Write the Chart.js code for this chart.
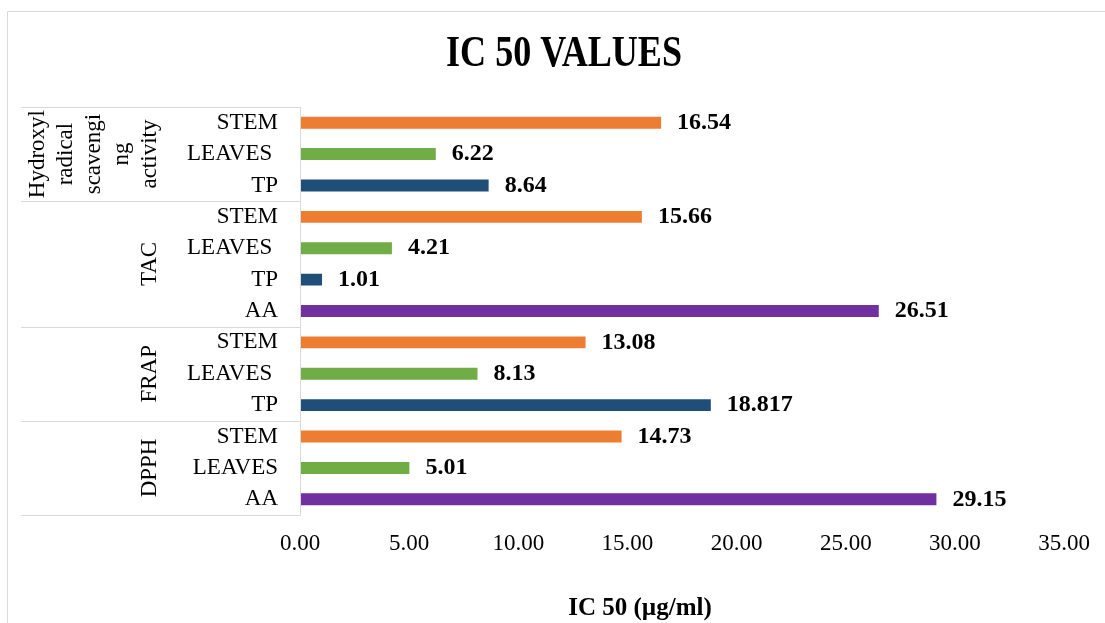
<!DOCTYPE html>
<html>
<head>
<meta charset="utf-8">
<title>IC 50 VALUES</title>
<script src="https://cdn.jsdelivr.net/npm/chart.js@4.4.1/dist/chart.umd.min.js"></script>
<style>
  html, body { margin: 0; padding: 0; background: #ffffff; overflow: hidden; }
  #wrap { position: relative; width: 1105px; height: 623px; }
</style>
</head>
<body>
<div id="wrap"><canvas id="chart" width="1105" height="623"></canvas></div>
<script>
// Assays (outer category level), listed top to bottom
const assays = ['Hydroxyl radical scavenging activity', 'TAC', 'FRAP', 'DPPH'];
// Wrapped lines of each assay label as printed on the axis
const assayLines = [['Hydroxyl', 'radical', 'scavengi', 'ng', 'activity'], ['TAC'], ['FRAP'], ['DPPH']];

// Samples (inner category level) for each assay, top to bottom
const hydroxylSamples = ['STEM', 'LEAVES ', 'TP'];
const tacSamples = ['STEM', 'LEAVES ', 'TP', 'AA'];
const frapSamples = ['STEM', 'LEAVES ', 'TP'];
const dpphSamples = ['STEM', 'LEAVES', 'AA'];

// IC50 values in µg/ml, same order as the samples
const hydroxylValues = [16.54, 6.22, 8.64];
const tacValues = [15.66, 4.21, 1.01, 26.51];
const frapValues = [13.08, 8.13, 18.817];
const dpphValues = [14.73, 5.01, 29.15];

// Value axis ticks
const xTicks = [0, 5, 10, 15, 20, 25, 30, 35];

const chartTitle = 'IC 50 VALUES';
const xAxisTitle = 'IC 50 (µg/ml)';

const sampleColors = { STEM: '#ED7D31', LEAVES: '#70AD47', TP: '#1F4E79', AA: '#7030A0' };
const FONT = "'Liberation Serif', 'Times New Roman', serif";

const sampleGroups = [hydroxylSamples, tacSamples, frapSamples, dpphSamples];
const valueGroups = [hydroxylValues, tacValues, frapValues, dpphValues];
const labels = sampleGroups.flat();
const values = valueGroups.flat();
const colors = labels.map(l => sampleColors[l.trim()]);

// Light outer frame of the chart and the condensed bold title
const frame = {
  id: 'frame',
  beforeDraw(chart) {
    const ctx = chart.ctx;
    ctx.save();
    ctx.strokeStyle = '#d9d9d9';
    ctx.lineWidth = 1;
    ctx.beginPath();
    ctx.moveTo(7.5, chart.height);
    ctx.lineTo(7.5, 11.5);
    ctx.lineTo(chart.width, 11.5);
    ctx.stroke();

    ctx.fillStyle = '#000';
    ctx.font = 'bold 44px ' + FONT;
    ctx.textAlign = 'center';
    ctx.textBaseline = 'middle';
    ctx.translate(564, 55);
    ctx.scale(0.82, 1);
    ctx.fillText(chartTitle, 0, 0);
    ctx.restore();
  }
};

// Outer level of the category axis: group separators and rotated assay names
const groupAxis = {
  id: 'groupAxis',
  afterDraw(chart) {
    const ys = chart.scales.y;
    const area = chart.chartArea;
    const ctx = chart.ctx;
    const half = (ys.getPixelForValue(1) - ys.getPixelForValue(0)) / 2;
    ctx.save();
    ctx.strokeStyle = '#d9d9d9';
    ctx.lineWidth = 1;
    ctx.beginPath();
    const lx = Math.round(area.left) + 0.5;
    ctx.moveTo(lx, ys.getPixelForValue(0) - half);
    ctx.lineTo(lx, ys.getPixelForValue(labels.length - 1) + half);
    let start = 0;
    const bounds = [ys.getPixelForValue(0) - half];
    sampleGroups.forEach(g => {
      start += g.length;
      bounds.push(ys.getPixelForValue(start - 1) + half);
    });
    bounds.forEach(b => {
      const yy = Math.round(b) + 0.5;
      ctx.moveTo(21, yy);
      ctx.lineTo(lx, yy);
    });
    ctx.stroke();

    ctx.fillStyle = '#000';
    ctx.font = '23px ' + FONT;
    ctx.textAlign = 'center';
    ctx.textBaseline = 'alphabetic';
    start = 0;
    sampleGroups.forEach((g, gi) => {
      const cy = (ys.getPixelForValue(start) + ys.getPixelForValue(start + g.length - 1)) / 2;
      const lines = assayLines[gi];
      lines.forEach((line, j) => {
        const bx = 156 - (lines.length - 1 - j) * 28;
        ctx.save();
        ctx.translate(bx, cy);
        ctx.rotate(-Math.PI / 2);
        ctx.fillText(line, 0, 0);
        ctx.restore();
      });
      start += g.length;
    });
    ctx.restore();
  }
};

// Value labels at the end of each bar
const valueLabels = {
  id: 'valueLabels',
  afterDatasetsDraw(chart) {
    const ctx = chart.ctx;
    const meta = chart.getDatasetMeta(0);
    ctx.save();
    ctx.fillStyle = '#000';
    ctx.font = 'bold 24px ' + FONT;
    ctx.textAlign = 'left';
    ctx.textBaseline = 'middle';
    meta.data.forEach((bar, i) => {
      ctx.fillText(String(values[i]), bar.x + 16, bar.y);
    });
    ctx.restore();
  }
};

// Value axis title
const xTitle = {
  id: 'xTitle',
  afterDraw(chart) {
    const ctx = chart.ctx;
    ctx.save();
    ctx.fillStyle = '#000';
    ctx.font = 'bold 25px ' + FONT;
    ctx.textAlign = 'center';
    ctx.textBaseline = 'middle';
    ctx.fillText(xAxisTitle, 640, 609);
    ctx.restore();
  }
};

new Chart(document.getElementById('chart'), {
  type: 'bar',
  data: {
    labels: labels,
    datasets: [{
      label: 'IC 50',
      data: values,
      backgroundColor: colors,
      borderWidth: 0,
      barPercentage: 0.38,
      categoryPercentage: 1
    }]
  },
  options: {
    indexAxis: 'y',
    responsive: false,
    animation: false,
    layout: { padding: { left: 61, right: 40, top: 107, bottom: 0 } },
    plugins: {
      legend: { display: false },
      tooltip: { enabled: false },
      title: { display: false }
    },
    scales: {
      x: {
        type: 'linear',
        min: 0,
        max: 35,
        afterBuildTicks: s => { s.ticks = xTicks.map(v => ({ value: v })); },
        ticks: {
          color: '#000',
          font: { family: FONT, size: 23 },
          padding: 15,
          maxRotation: 0,
          autoSkip: false,
          callback: v => Number(v).toFixed(2)
        },
        grid: { display: false, drawTicks: false },
        border: { display: false },
        afterFit: s => { s.height = 108; }
      },
      y: {
        type: 'category',
        ticks: {
          color: '#000',
          font: { family: FONT, size: 23 },
          padding: 22,
          autoSkip: false
        },
        grid: { display: false, drawTicks: false },
        border: { display: false },
        afterFit: s => { s.width = 239; }
      }
    }
  },
  plugins: [frame, groupAxis, valueLabels, xTitle]
});
</script>
</body>
</html>
